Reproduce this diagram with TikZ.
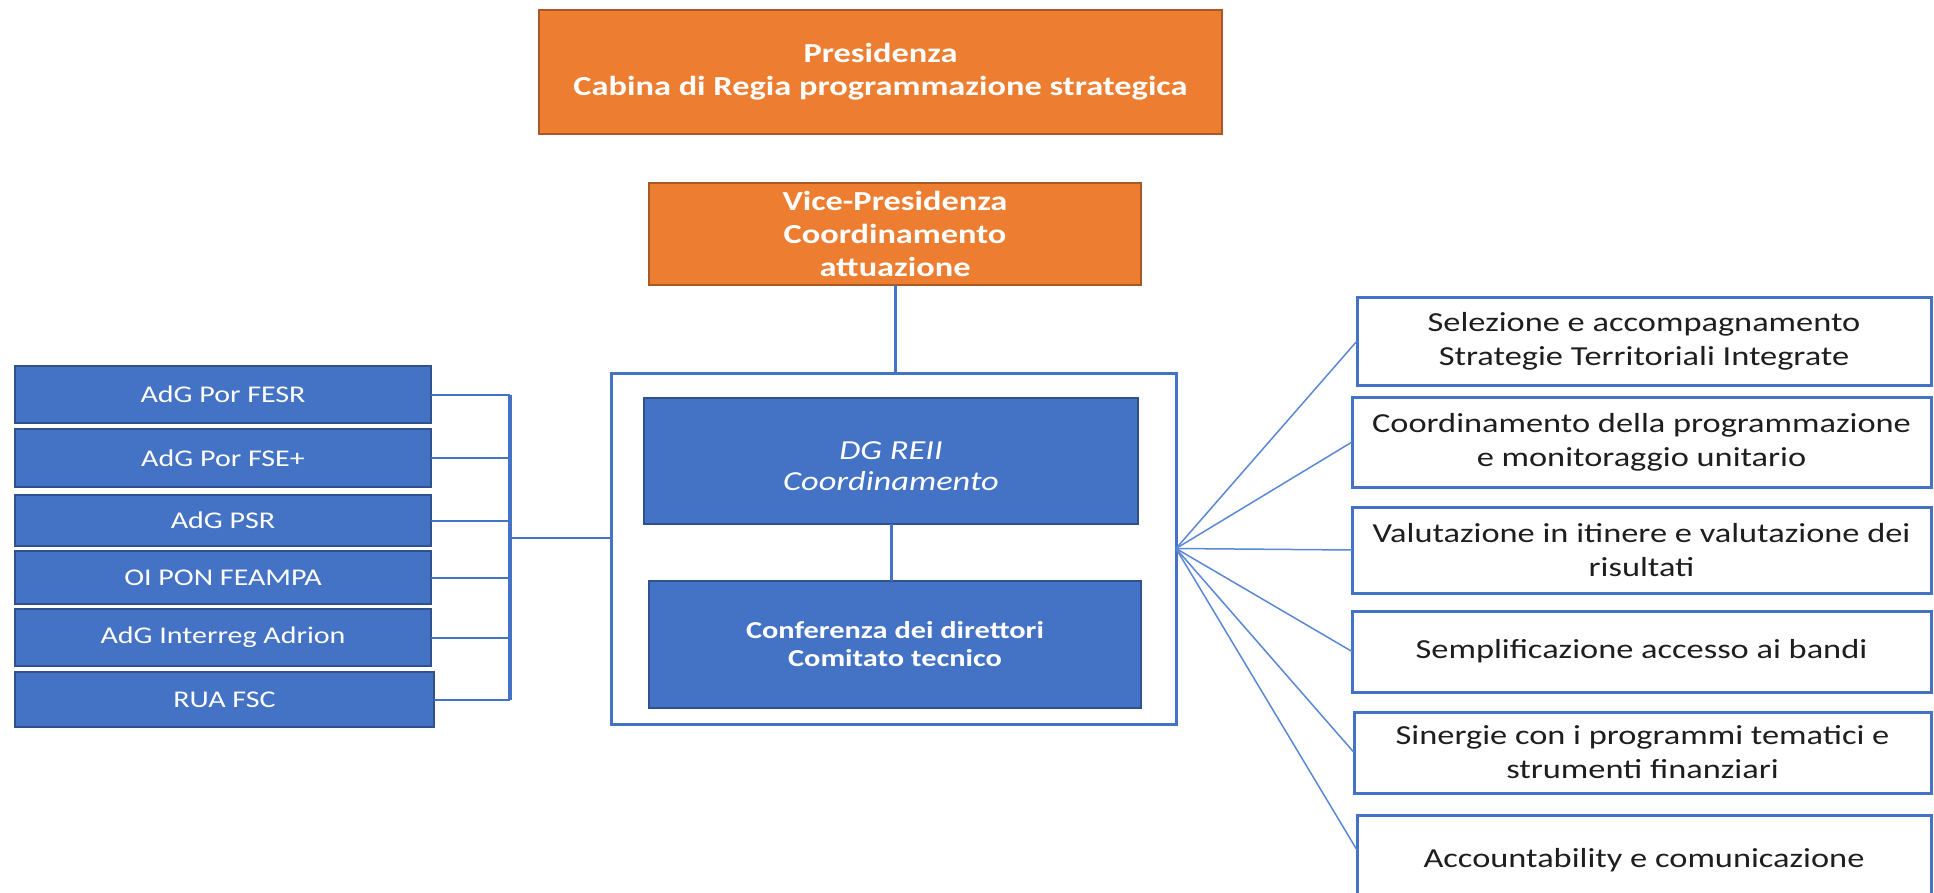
\documentclass[tikz,border=0pt]{standalone}
\usepackage{fontspec}
\setmainfont{Carlito}[FakeStretch=1.25]
\definecolor{orng}{HTML}{ED7D31}
\definecolor{orngd}{HTML}{A85A26}
\definecolor{blu}{HTML}{4472C4}
\definecolor{blud}{HTML}{2F528F}
\definecolor{fanc}{HTML}{5B88D6}
\definecolor{txt}{HTML}{1E1E1E}
\begin{document}
\begin{tikzpicture}[x=1pt,y=-1pt,
  orbox/.style={draw=orngd, fill=orng, line width=1.2pt, text=white, align=center, inner sep=0pt, outer sep=0pt, font=\fontsize{27.5}{33}\selectfont\bfseries},
  blbox/.style={draw=blud, fill=blu, line width=1.5pt, text=white, align=center, inner sep=0pt, outer sep=0pt},
  lbox/.style={blbox, minimum width=416pt, font=\fontsize{24}{29}\selectfont},
  rbox/.style={draw=blu, line width=3pt, fill=white, text=txt, align=center, inner sep=0pt, outer sep=0pt, font=\fontsize{27.5}{34}\selectfont},
  link/.style={draw=blu, line width=2pt},
  fanl/.style={draw=fanc, line width=1.5pt}]
\useasboundingbox (0,0) rectangle (1934,893);
\fill[white] (0,0) rectangle (1934,893);

\node[orbox, minimum width=683pt, minimum height=124pt] (pres) at (880.5,72) {Presidenza\\Cabina di Regia programmazione strategica};
\node[orbox, minimum width=492pt, minimum height=102pt] (vice) at (895,234) {Vice-Presidenza\\Coordinamento\\attuazione};

\node[draw=blu, line width=3pt, minimum width=565pt, minimum height=351pt, inner sep=0pt, outer sep=0pt] (outer) at (893.5,548.5) {};
\node[blbox, minimum width=494pt, minimum height=126pt] (dg) at (891,461) {};
\node[text=white, align=center, inner sep=0pt, font=\fontsize{27.5}{31}\selectfont\itshape] (dgt) at ([yshift=-5pt]dg.center) {DG REII\\Coordinamento};
\node[blbox, minimum width=492pt, minimum height=127pt, font=\fontsize{24.3}{28}\selectfont\bfseries] (conf) at (895,644.5) {Conferenza dei direttori\\Comitato tecnico};

\draw[link, line width=3pt] (vice.south) -- (vice.south |- outer.north);
\draw[link, line width=3pt] (dg.south) -- (dg.south |- conf.north);

\node[lbox, minimum height=57pt] (l1) at (223,394.5) {AdG Por FESR};
\node[lbox, minimum height=58pt] (l2) at (223,458) {AdG Por FSE+};
\node[lbox, minimum height=51pt] (l3) at (223,520.5) {AdG PSR};
\node[lbox, minimum height=53pt] (l4) at (223,577.5) {OI PON FEAMPA};
\node[lbox, minimum height=57pt] (l5) at (223,637.5) {AdG Interreg Adrion};
\node[lbox, minimum height=55pt, minimum width=419pt] (l6) at (224.5,699.5) {RUA FSC};

\coordinate (bkx) at (510,538);
\foreach \n in {l1,l2,l3,l4,l5,l6}
  \draw[link] (\n.east) -- (\n.east -| bkx);
\draw[draw=blu, line width=3.5pt] (bkx |- l1.east) -- (bkx |- l6.east);
\draw[link] (bkx) -- (bkx -| outer.west);

\node[rbox, minimum width=574pt, minimum height=88pt] (r1) at (1644,341) {Selezione e accompagnamento\\Strategie Territoriali Integrate};
\node[rbox, minimum width=579pt, minimum height=90pt] (r2) at (1641.5,442) {Coordinamento della programmazione\\e monitoraggio unitario};
\node[rbox, minimum width=579pt, minimum height=86pt] (r3) at (1641.5,550) {Valutazione in itinere e valutazione dei\\risultati};
\node[rbox, minimum width=579pt, minimum height=81pt] (r4) at (1641.5,651.5) {Semplificazione accesso ai bandi};
\node[rbox, minimum width=577pt, minimum height=81pt] (r5) at (1642.5,752.5) {Sinergie con i programmi tematici e\\strumenti finanziari};
\node[rbox, minimum width=574pt, minimum height=90pt] (r6) at (1644,860) {Accountability e comunicazione};

\coordinate (fo) at (outer.east);
\foreach \n in {r1,r2,r3,r4,r5}
  \draw[fanl] (fo) -- (\n.west);
\draw[fanl] (fo) -- ([yshift=10pt]r6.west);
\end{tikzpicture}
\end{document}
